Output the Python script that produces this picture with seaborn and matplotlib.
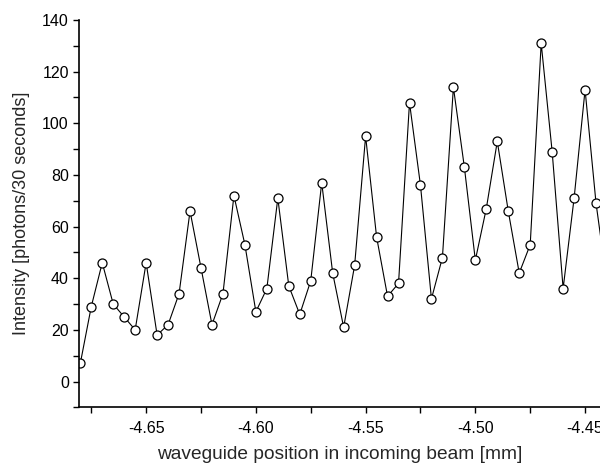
import matplotlib
matplotlib.use("Agg")
import matplotlib.pyplot as plt
import seaborn as sns
import numpy as np
import pandas as pd
from matplotlib.ticker import MultipleLocator, FormatStrFormatter

positions = [-4.680, -4.675, -4.670, -4.665, -4.660, -4.655, -4.650, -4.645, -4.640, -4.635,
             -4.630, -4.625, -4.620, -4.615, -4.610, -4.605, -4.600, -4.595, -4.590, -4.585,
             -4.580, -4.575, -4.570, -4.565, -4.560, -4.555, -4.550, -4.545, -4.540, -4.535,
             -4.530, -4.525, -4.520, -4.515, -4.510, -4.505, -4.500, -4.495, -4.490, -4.485,
             -4.480, -4.475, -4.470, -4.465, -4.460, -4.455, -4.450, -4.445, -4.440]
intensity = [7, 29, 46, 30, 25, 20, 46, 18, 22, 34,
             66, 44, 22, 34, 72, 53, 27, 36, 71, 37,
             26, 39, 77, 42, 21, 45, 95, 56, 33, 38,
             108, 76, 32, 48, 114, 83, 47, 67, 93, 66,
             42, 53, 131, 89, 36, 71, 113, 69, 38]

df = pd.DataFrame({"pos": positions, "I": intensity})

sns.set_style("ticks")
plt.rcParams['font.family'] = ['Liberation Sans', 'DejaVu Sans']

fig = plt.figure(figsize=(6, 4.65), dpi=100)
ax = fig.add_axes([0.132, 0.124, 0.868, 0.833])

sns.lineplot(data=df, x="pos", y="I", ax=ax, color="black", linewidth=0.8,
             marker="o", markersize=6.5, markerfacecolor="white",
             markeredgecolor="black", markeredgewidth=0.9, sort=False,
             estimator=None)

ax.set_xlim(-4.6805, -4.4432)
ax.set_ylim(-10, 140)
ax.xaxis.set_major_locator(MultipleLocator(0.05))
ax.xaxis.set_minor_locator(MultipleLocator(0.025))
ax.xaxis.set_major_formatter(FormatStrFormatter('%.2f'))
ax.yaxis.set_major_locator(MultipleLocator(20))
ax.yaxis.set_minor_locator(MultipleLocator(10))

ax.tick_params(axis='both', which='both', direction='out', length=4, width=1,
               color='black', labelsize=11.5, labelcolor='black')
ax.tick_params(axis='x', pad=6)
for s in ['top', 'right']:
    ax.spines[s].set_visible(False)
for s in ['left', 'bottom']:
    ax.spines[s].set_color('black')
    ax.spines[s].set_linewidth(1.2)

ax.set_xlabel("waveguide position in incoming beam [mm]", fontsize=13.8, labelpad=7)
ax.set_ylabel("Intensity [photons/30 seconds]", fontsize=13, labelpad=9)

fig.savefig("out.png", dpi=100)
